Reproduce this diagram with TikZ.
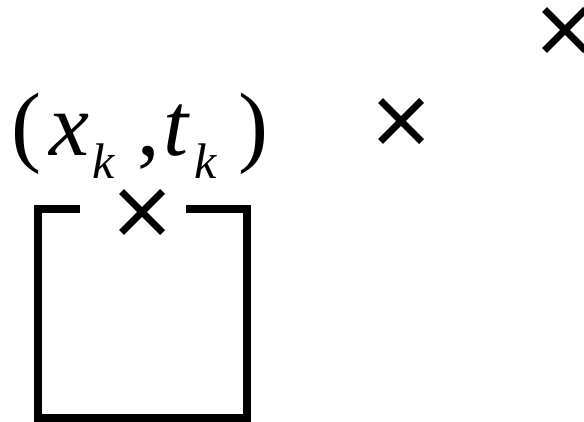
\documentclass[tikz,border=0pt]{standalone}
\usepackage{fontspec}
\setmainfont{Liberation Serif}
\newcommand{\subk}{\raisebox{-23pt}{\fontsize{50}{50}\selectfont\textit{k}}}
\begin{document}
\begin{tikzpicture}[x=1pt, y=-1pt,
    wall/.style={line width=8pt},
    crs/.style={line width=7pt},
    lbl/.style={font=\fontsize{90}{90}\selectfont, inner sep=0pt},
  ]
  \useasboundingbox (0,0) rectangle (584,422);

  % --- points ---
  \coordinate (p1) at (142,212);
  \coordinate (p2) at (401,121);
  \coordinate (p3) at (565,30);
  \foreach \p in {p1,p2,p3}
    \draw[crs] ([shift={(-20.5,-20.5)}]\p) -- ([shift={(20.5,20.5)}]\p)
               ([shift={(-20.5,20.5)}]\p) -- ([shift={(20.5,-20.5)}]\p);

  % --- box open at the top ---
  \draw[wall] (80,209) -- (37.5,209) -- (37.5,418) -- (247,418) -- (247,209) -- (186,209);

  % --- label ---
  \node[lbl, anchor=base west] (lab) at (11,156)
    {(\hspace{8pt}\textit{x}\hspace{3pt}\subk\hspace{22pt},\hspace{4pt}\textit{t}\hspace{4pt}\subk\hspace{21pt})};

\end{tikzpicture}
\end{document}
